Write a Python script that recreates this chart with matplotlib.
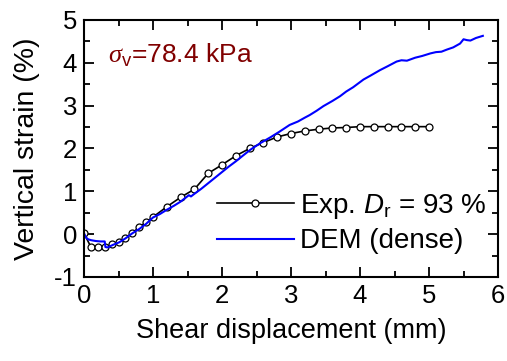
import numpy as np
import matplotlib
matplotlib.use('Agg')
import matplotlib.pyplot as plt
from matplotlib.ticker import MultipleLocator

plt.rcParams['font.family'] = ['Liberation Sans', 'DejaVu Sans']
plt.rcParams['mathtext.fontset'] = 'custom'
plt.rcParams['mathtext.rm'] = 'Liberation Sans'
plt.rcParams['mathtext.it'] = 'Liberation Sans:italic'
plt.rcParams['mathtext.sf'] = 'Liberation Serif:italic'
plt.rcParams['axes.unicode_minus'] = False

# experiment (Dr = 93 %)
exp_x = [0.0, 0.1, 0.2, 0.3, 0.4, 0.5, 0.6, 0.7, 0.8, 0.9, 1.0,
         1.2, 1.4, 1.6, 1.8, 2.0, 2.2, 2.4, 2.6, 2.8, 3.0, 3.2, 3.4,
         3.6, 3.8, 4.0, 4.2, 4.4, 4.6, 4.8, 5.0]
exp_y = [0.02, -0.30, -0.31, -0.30, -0.24, -0.19, -0.09, 0.03, 0.16, 0.28, 0.40,
         0.64, 0.86, 1.05, 1.42, 1.62, 1.83, 2.00, 2.14, 2.27, 2.35, 2.41, 2.45,
         2.48, 2.49, 2.51, 2.51, 2.51, 2.51, 2.51, 2.51]

# DEM (dense)
dem_x = [0.0, 0.03, 0.06, 0.1, 0.17, 0.24, 0.30, 0.31, 0.34, 0.42, 0.51, 0.6, 0.7,
         0.8, 0.9, 1.0, 1.1, 1.19, 1.3, 1.4, 1.52, 1.55, 1.59, 1.7, 1.8, 1.9,
         2.0, 2.1, 2.2, 2.3, 2.41, 2.55, 2.7, 2.83, 2.98, 3.1, 3.2, 3.27, 3.37,
         3.47, 3.6, 3.71, 3.8, 3.9, 4.05, 4.15, 4.29, 4.4, 4.53, 4.6, 4.68,
         4.8, 4.9, 5.02, 5.1, 5.18, 5.26, 5.35, 5.45, 5.5, 5.55, 5.6, 5.68, 5.78]
dem_y = [0.02, -0.08, -0.12, -0.14, -0.16, -0.17, -0.17, -0.30, -0.31, -0.25, -0.19,
         -0.10, 0.02, 0.12, 0.24, 0.39, 0.47, 0.56, 0.66, 0.76, 0.91, 0.88, 0.93,
         1.06, 1.19, 1.32, 1.45, 1.58, 1.70, 1.83, 1.97, 2.12, 2.26, 2.39, 2.55,
         2.63, 2.72, 2.78, 2.88, 2.99, 3.11, 3.22, 3.33, 3.43, 3.61, 3.70, 3.83,
         3.92, 4.03, 4.06, 4.05, 4.12, 4.16, 4.22, 4.25, 4.26, 4.31, 4.36, 4.45,
         4.55, 4.53, 4.52, 4.58, 4.63]

fig = plt.figure(figsize=(5.07, 3.61), dpi=100)
ax = fig.add_axes([0.1657, 0.2327, 0.8166, 0.7119])

ax.plot(exp_x, exp_y, '-o', color='black', lw=1.2, ms=5,
        mfc='white', mec='black', mew=0.9,
        label=r'Exp. $D_\mathregular{r}$ = 93 %')
ax.plot(dem_x, dem_y, '-', color='#0000ff', lw=1.5, label='DEM (dense)')

ax.set_xlim(0, 6)
ax.set_ylim(-1, 5)
ax.xaxis.set_major_locator(MultipleLocator(1))
ax.xaxis.set_minor_locator(MultipleLocator(0.5))
ax.yaxis.set_major_locator(MultipleLocator(1))
ax.yaxis.set_minor_locator(MultipleLocator(0.5))
ax.tick_params(which='both', direction='in', top=True, right=True,
               width=1.3, labelsize=18.5, pad=5)
ax.tick_params(which='major', length=7)
ax.tick_params(which='minor', length=4)
for sp in ax.spines.values():
    sp.set_linewidth(1.5)

ax.set_xlabel('Shear displacement (mm)', fontsize=19.5, labelpad=7)
ax.set_ylabel('Vertical strain (%)', fontsize=20.5, labelpad=10)

ax.text(0.35, 4.0, r'$\mathsf{\sigma}_\mathregular{v}$=78.4 kPa',
        color='#800000', fontsize=19)

ax.legend(loc='lower right', frameon=False, fontsize=20,
          handlelength=2.75, handletextpad=0.25, labelspacing=0.28,
          borderaxespad=0.0, bbox_to_anchor=(1.0, 0.045))

fig.savefig('out.png', dpi=100)
